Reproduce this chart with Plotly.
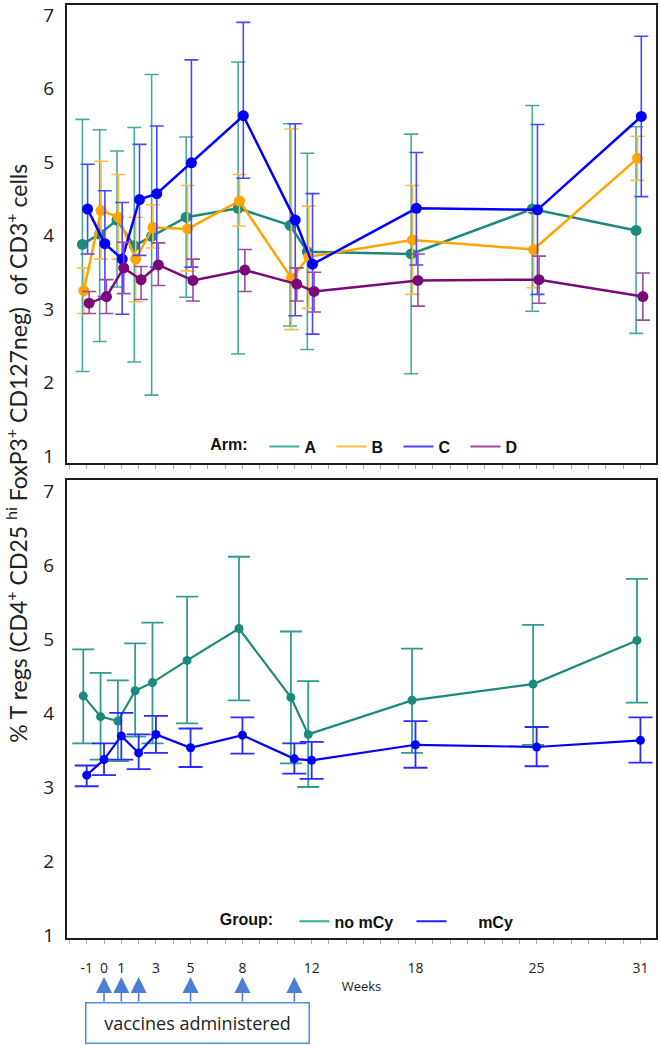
import plotly.graph_objects as go

# ---------------- data ----------------
weeks = [-1, 0, 1, 2, 3, 5, 8, 11, 12, 18, 25, 31]
tick_weeks = [-1, 0, 1, 3, 5, 8, 12, 18, 25, 31]
vaccine_weeks = [0, 1, 2, 5, 8, 11]

arm_names = ["A", "B", "C", "D"]
A_mean = [3.88, 4.02, 4.21, 3.86, 3.99, 4.25, 4.37, 4.14, 3.78, 3.75, 4.36, 4.07]
A_hi = [5.58, 5.44, 5.15, 5.47, 6.19, 5.34, 6.36, 5.52, 5.12, 5.38, 5.77, 5.48]
A_lo = [2.15, 2.56, 3.30, 2.28, 1.83, 3.16, 2.39, 2.77, 2.45, 2.12, 2.97, 2.67]

B_mean = [3.25, 4.34, 4.25, 3.68, 4.11, 4.09, 4.47, 3.42, 3.71, 3.94, 3.81, 5.05]
B_hi = [3.56, 5.01, 4.83, 4.25, 4.42, 4.68, 4.83, 5.45, 4.40, 4.68, 4.33, 5.35]
B_lo = [2.94, 3.68, 3.68, 3.10, 3.83, 3.52, 4.13, 2.72, 3.01, 3.20, 3.29, 4.75]

C_mean = [4.36, 3.89, 3.68, 4.49, 4.57, 4.99, 5.63, 4.21, 3.61, 4.37, 4.35, 5.62]
C_hi = [4.97, 4.61, 4.45, 5.24, 5.49, 6.39, 6.90, 5.52, 4.57, 5.13, 5.51, 6.71]
C_lo = [3.75, 3.17, 2.93, 3.73, 3.57, 3.57, 4.78, 2.91, 2.66, 3.60, 3.20, 4.53]

D_mean = [3.08, 3.17, 3.56, 3.40, 3.60, 3.39, 3.53, 3.34, 3.24, 3.39, 3.40, 3.17]
D_hi = [3.24, 3.40, 3.91, 3.58, 3.90, 3.68, 3.81, 3.56, 3.50, 3.75, 3.72, 3.49]
D_lo = [2.94, 2.94, 3.21, 3.13, 3.32, 3.11, 3.24, 3.11, 2.96, 3.04, 3.08, 2.85]

group_names = ["no mCy", "\u00a0\u00a0\u00a0\u00a0\u00a0\u00a0mCy"]
noM_mean = [4.23, 3.95, 3.89, 4.30, 4.41, 4.71, 5.14, 4.21, 3.71, 4.17, 4.39, 4.98]
noM_hi = [4.86, 4.54, 4.44, 4.94, 5.22, 5.57, 6.11, 5.10, 4.43, 4.87, 5.19, 5.81]
noM_lo = [3.59, 3.37, 3.35, 3.68, 3.59, 3.86, 4.17, 3.32, 3.00, 3.46, 3.57, 4.14]
mCy_mean = [3.16, 3.37, 3.69, 3.46, 3.71, 3.53, 3.70, 3.38, 3.36, 3.57, 3.54, 3.63]
mCy_hi = [3.29, 3.59, 4.00, 3.71, 3.96, 3.79, 3.94, 3.59, 3.61, 3.89, 3.81, 3.94]
mCy_lo = [3.01, 3.16, 3.37, 3.24, 3.46, 3.27, 3.45, 3.18, 3.11, 3.26, 3.28, 3.33]

# ---------------- styles ----------------
arm_style = {
    "A": dict(line="#1b8a7c", err="#48aa9e", dx=-0.25),
    "B": dict(line="#ffa500", err="#ffbb45", dx=-0.17),
    "C": dict(line="#0000ff", err="#4848ff", dx=0.05),
    "D": dict(line="#7a0a7a", err="#9c4c9c", dx=0.14),
}
group_style = [
    dict(line="#1b8a7c", err="#2f9c8f", leg="#3aa898", dx=-0.2, cap=11),
    dict(line="#0000ff", err="#2a2aff", leg="#2020ff", dx=0.0, cap=12),
]

FONT = "Open Sans"
TITLE_FONT = "Lato"
fig = go.Figure()

arm_data = {
    "A": (A_mean, A_hi, A_lo),
    "B": (B_mean, B_hi, B_lo),
    "C": (C_mean, C_hi, C_lo),
    "D": (D_mean, D_hi, D_lo),
}
for name in arm_names:
    m, hi, lo = arm_data[name]
    st = arm_style[name]
    fig.add_trace(go.Scatter(
        x=[w + st["dx"] for w in weeks], y=m, mode="lines+markers",
        line=dict(color=st["line"], width=2.5),
        marker=dict(color=st["line"], size=11),
        error_y=dict(type="data", symmetric=False,
                     array=[h - v for h, v in zip(hi, m)],
                     arrayminus=[v - l for v, l in zip(m, lo)],
                     color=st["err"], thickness=1.6, width=7),
        showlegend=False, xaxis="x", yaxis="y"))
for name in arm_names:
    st = arm_style[name]
    fig.add_trace(go.Scatter(
        x=[None], y=[None], mode="lines", name=name,
        line=dict(color=st["err"], width=2), legend="legend",
        xaxis="x", yaxis="y"))

group_data = [(noM_mean, noM_hi, noM_lo), (mCy_mean, mCy_hi, mCy_lo)]
for (m, hi, lo), st in zip(group_data, group_style):
    fig.add_trace(go.Scatter(
        x=[w + st["dx"] for w in weeks], y=m, mode="lines+markers",
        line=dict(color=st["line"], width=2.2),
        marker=dict(color=st["line"], size=9),
        error_y=dict(type="data", symmetric=False,
                     array=[h - v for h, v in zip(hi, m)],
                     arrayminus=[v - l for v, l in zip(m, lo)],
                     color=st["err"], thickness=1.8, width=st["cap"]),
        showlegend=False, xaxis="x2", yaxis="y2"))
for name, st in zip(group_names, group_style):
    fig.add_trace(go.Scatter(
        x=[None], y=[None], mode="lines", name=name,
        line=dict(color=st["leg"], width=2),
        legend="legend2", xaxis="x2", yaxis="y2"))

all_ticks = list(range(-2, 33))
tick_text = [str(t) if t in tick_weeks else "" for t in all_ticks]

xcommon = dict(range=[-2.14, 31.9], showline=True, linewidth=2, linecolor="#1e1e1e",
               mirror=True, ticks="outside", ticklen=4, tickwidth=1, tickcolor="#b0b0b0",
               tickmode="array", tickvals=all_ticks, showgrid=False, zeroline=False)
ycommon = dict(showline=True, linewidth=2, linecolor="#1e1e1e", mirror=True,
               tickmode="array", tickvals=[1, 2, 3, 4, 5, 6, 7], ticks="",
               showgrid=False, zeroline=False, ticklabelstandoff=7,
               tickfont=dict(family=FONT, size=19, color="#222"))

legfont = dict(family="Liberation Sans", size=16, color="#111", weight="bold")

fig.update_layout(
    width=661, height=1046,
    margin=dict(l=67, r=4, t=3, b=108),
    paper_bgcolor="white", plot_bgcolor="white",
    xaxis=dict(**xcommon, domain=[0, 1], anchor="y", showticklabels=False),
    yaxis=dict(**ycommon, domain=[0.509, 1], range=[0.905, 7.136], anchor="x"),
    xaxis2=dict(**xcommon, domain=[0, 1], anchor="y2", ticktext=tick_text,
                ticklabelstandoff=12,
                tickfont=dict(family=FONT, size=14, color="#222"),
                title=dict(text="Weeks", standoff=6,
                           font=dict(family=FONT, size=13, color="#222"))),
    yaxis2=dict(**ycommon, domain=[0, 0.491], range=[0.96, 7.148], anchor="x2"),
    legend=dict(orientation="h", x=0.2398, y=0.5085, xanchor="left", yanchor="bottom",
                title=dict(text="<b>Arm:</b>\u00a0\u00a0", side="left", font=legfont),
                font=legfont,
                entrywidth=22, entrywidthmode="pixels", bgcolor="rgba(0,0,0,0)",
                itemclick=False),
    legend2=dict(orientation="h", x=0.256, y=-0.0005, xanchor="left", yanchor="bottom",
                 title=dict(text="<b>Group:</b>\u00a0\u00a0\u00a0", side="left", font=legfont),
                 font=legfont,
                 entrywidth=72, entrywidthmode="pixels", bgcolor="rgba(0,0,0,0)",
                 itemclick=False),
)

# shared y-axis title
fig.add_annotation(
    text="% T regs (CD4<sup>+</sup> CD25 <sup>hi</sup> FoxP3<sup>+</sup> CD127neg)  of CD3<sup>+</sup> cells",
    xref="paper", yref="paper", x=-0.085, y=0.52, textangle=-90,
    showarrow=False, xanchor="center", yanchor="middle",
    font=dict(family=TITLE_FONT, size=23, color="#222"))

# vaccine arrows
for w in vaccine_weeks:
    fig.add_annotation(x=w, y=-0.0417, xref="x2", yref="paper", text="",
                       showarrow=True, ax=0, ay=26, axref="pixel", ayref="pixel",
                       arrowhead=2, arrowsize=2.0, arrowwidth=1.6, arrowcolor="#4a7fd4")

fig.add_annotation(text="vaccines administered", xref="paper", yref="paper",
                   x=0.222, y=-0.0914, xanchor="center", yanchor="middle",
                   showarrow=False, width=222, height=39,
                   bordercolor="#4a93d8", borderwidth=1.5, borderpad=0,
                   font=dict(family=FONT, size=18, color="#222"))

fig.write_html("out.html", config={"displayModeBar": False},
               post_script="document.body.style.margin='0px';")
